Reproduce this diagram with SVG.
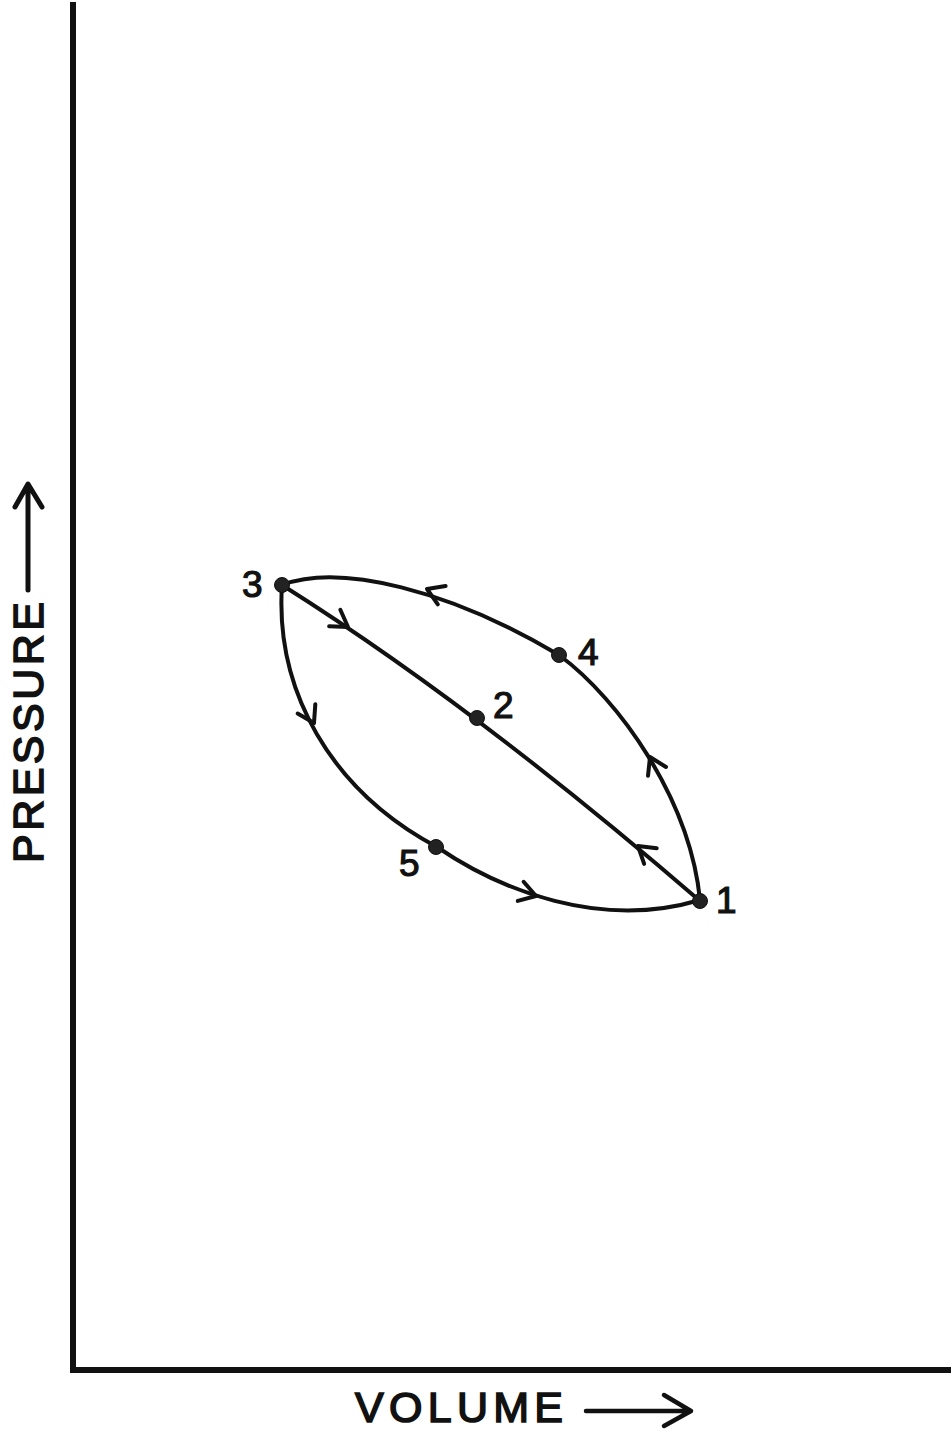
<svg xmlns="http://www.w3.org/2000/svg" xmlns:xlink="http://www.w3.org/1999/xlink" width="951" height="1437" viewBox="0 0 951 1437">
<style>
.ln{fill:none;stroke:#111;stroke-width:4;stroke-linecap:round;stroke-linejoin:round}
.ax{fill:none;stroke:#111;stroke-width:6;stroke-linecap:square}
.dot{fill:#222;stroke:#111;stroke-width:1}
.lbl{font-family:"Liberation Sans",Arial,sans-serif;font-size:37px;fill:#111;stroke:#111;stroke-width:1.2}
.ttl{font-family:"Liberation Sans",Arial,sans-serif;font-size:43px;fill:#111;stroke:#111;stroke-width:1.6}
</style>
<defs>
<path id="ah" d="M-16,-10 L0,0 L-16,10" class="ln"/>
</defs>
<rect width="951" height="1437" fill="#fff"/>
<g id="axes">
<path class="ax" d="M73,5 L73,1370 L951,1370"/>
<text class="ttl" transform="translate(43,863) rotate(-90)" textLength="261" lengthAdjust="spacing">PRESSURE</text>
<path d="M28,590 L28,485 M15,507 L28,484 L42,507" fill="none" stroke="#111" stroke-width="5" stroke-linecap="round" stroke-linejoin="round"/>
<text class="ttl" x="355" y="1422" textLength="208" lengthAdjust="spacing">VOLUME</text>
<path d="M586,1411 L690,1411 M664,1395 L691,1411 L664,1426" fill="none" stroke="#111" stroke-width="4.5" stroke-linecap="round" stroke-linejoin="round"/>
</g>
<g id="connectors">
<path class="ln" d="M282,585 Q474,706 700,901"/>
<path class="ln" d="M282,585 C340,563 450,590 559,655"/>
<path class="ln" d="M559,655 C620,700 690,800 700,900"/>
<path class="ln" d="M282,585 C275,690 330,790 437,847"/>
<path class="ln" d="M437,847 C500,890 600,930 700,900"/>
<use xlink:href="#ah" transform="translate(348,627) rotate(34)"/>
<use xlink:href="#ah" transform="translate(638,846) rotate(219)"/>
<use xlink:href="#ah" transform="translate(427,589) rotate(203)"/>
<use xlink:href="#ah" transform="translate(650,757) rotate(244)"/>
<use xlink:href="#ah" transform="translate(314,723) rotate(62)"/>
<use xlink:href="#ah" transform="translate(536,896) rotate(17)"/>
</g>
<g id="node-1"><circle class="dot" cx="700" cy="901" r="7.5"/><text class="lbl" x="716" y="913">1</text></g>
<g id="node-2"><circle class="dot" cx="477" cy="718" r="7.5"/><text class="lbl" x="493" y="718">2</text></g>
<g id="node-3"><circle class="dot" cx="282" cy="585" r="7.5"/><text class="lbl" x="242" y="597">3</text></g>
<g id="node-4"><circle class="dot" cx="559" cy="655" r="7.5"/><text class="lbl" x="578" y="665">4</text></g>
<g id="node-5"><circle class="dot" cx="436" cy="847" r="7.5"/><text class="lbl" x="399" y="876">5</text></g>
</svg>
